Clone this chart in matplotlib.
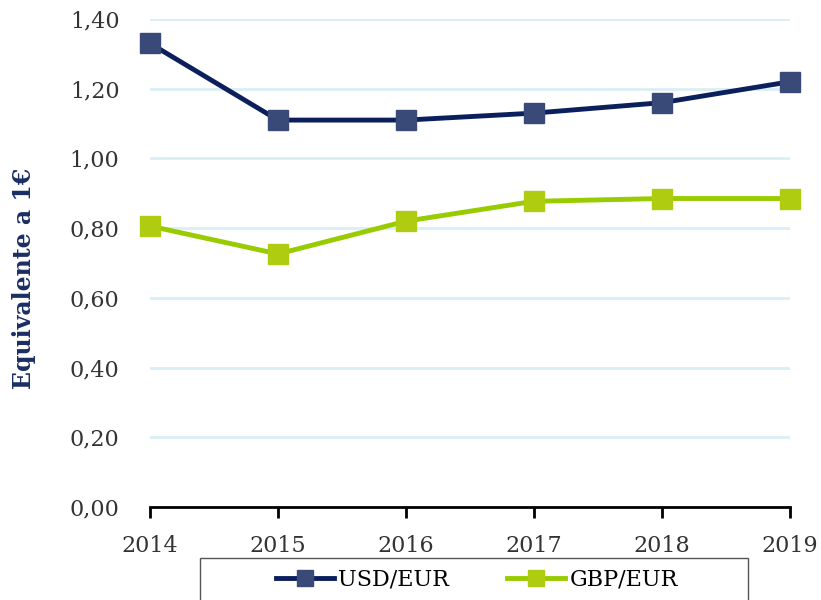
import matplotlib
matplotlib.use("Agg")
import matplotlib.pyplot as plt
from matplotlib.patches import Rectangle
from matplotlib.lines import Line2D

years = ["2014", "2015", "2016", "2017", "2018", "2019"]
usd_eur = [1.33, 1.11, 1.11, 1.13, 1.16, 1.22]
gbp_eur = [0.806, 0.726, 0.82, 0.877, 0.885, 0.885]
yticks = [0.0, 0.2, 0.4, 0.6, 0.8, 1.0, 1.2, 1.4]

plt.rcParams['font.family'] = ['DejaVu Serif']

fig = plt.figure(figsize=(8.21, 6.0), dpi=100)
ax = fig.add_axes([150/821, 1-507/600, (790-150)/821, (507-19)/600])

x = list(range(len(years)))
usd_line, usd_mk = "#0B1F5C", "#3A4A78"
gbp_line, gbp_mk = "#99CC00", "#AFCC10"

ax.plot(x, usd_eur, color=usd_line, lw=3.5, marker='s', ms=14.5,
        markerfacecolor=usd_mk, markeredgecolor=usd_mk, zorder=3, clip_on=False)
ax.plot(x, gbp_eur, color=gbp_line, lw=3.5, marker='s', ms=14.5,
        markerfacecolor=gbp_mk, markeredgecolor=gbp_mk, zorder=3, clip_on=False)

ax.set_xlim(0, len(years)-1)
ax.set_ylim(0, 1.4)
ax.set_yticks(yticks)
ax.set_yticklabels([f"{v:.2f}".replace('.', ',') for v in yticks], fontsize=16, color="#333333")
ax.set_xticks(x)
ax.set_xticklabels(years, fontsize=16, color="#333333")
ax.grid(axis='y', color="#DAEEF5", lw=2)
ax.set_axisbelow(True)
for s in ['left', 'right', 'top']:
    ax.spines[s].set_visible(False)
ax.spines['bottom'].set_color('black')
ax.spines['bottom'].set_linewidth(2)
ax.spines['bottom'].set_zorder(4)
ax.tick_params(axis='y', length=0, pad=22)
ax.tick_params(axis='x', length=8, width=2, direction='out', pad=12)

fig.text(24/821, 1-278/600, "Equivalente a 1€", rotation=90, fontsize=17,
         fontweight='bold', color="#1A2E63", ha='center', va='center')

rect = Rectangle((200/821, -0.05), (748-200)/821, 1-558/600+0.05,
                 transform=fig.transFigure, facecolor='white', edgecolor='#555555',
                 lw=1, clip_on=False)
fig.patches.append(rect)

handles = [Line2D([], [], color=usd_line, lw=3.5, marker='s', ms=12,
                  markerfacecolor=usd_mk, markeredgecolor=usd_mk),
           Line2D([], [], color=gbp_line, lw=3.5, marker='s', ms=12,
                  markerfacecolor=gbp_mk, markeredgecolor=gbp_mk)]
leg = fig.legend(handles, ["USD/EUR", "GBP/EUR"], loc='center',
                 bbox_to_anchor=(477/821, 1-580/600), ncol=2, frameon=False,
                 fontsize=16, handlelength=2.6, handletextpad=0.2, columnspacing=2.6)

fig.savefig("out.png", dpi=100)
